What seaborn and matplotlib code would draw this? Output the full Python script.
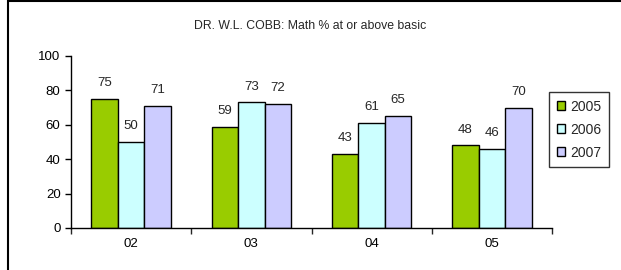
import matplotlib
matplotlib.use("Agg")
import matplotlib.pyplot as plt
import seaborn as sns
import pandas as pd
from matplotlib.patches import Rectangle

# data
grades = ["02", "03", "04", "05"]
years = ["2005", "2006", "2007"]
pct_2005 = [75, 59, 43, 48]
pct_2006 = [50, 73, 61, 46]
pct_2007 = [71, 72, 65, 70]
colors = ["#99CC00", "#CCFFFF", "#CCCCFF"]

df = pd.DataFrame({
    "grade": grades * 3,
    "year": [years[0]] * 4 + [years[1]] * 4 + [years[2]] * 4,
    "pct": pct_2005 + pct_2006 + pct_2007,
})

sns.set_style("white")
plt.rcParams["font.family"] = ["Liberation Sans", "DejaVu Sans"]

fig = plt.figure(figsize=(6.21, 2.7), dpi=100)
ax = fig.add_axes([71 / 621, 1 - 228 / 270, (552 - 71) / 621, (228 - 56) / 270])

sns.barplot(data=df, x="grade", y="pct", hue="year", palette=colors,
            edgecolor="black", linewidth=1, width=0.66, saturation=1,
            ax=ax, legend=True)

for c in ax.containers:
    ax.bar_label(c, padding=7, fontsize=9.5)

ax.set_ylim(0, 100)
ax.set_xlim(-0.5, 3.5)
ax.set_yticks([0, 20, 40, 60, 80, 100])
ax.set_xlabel("")
ax.set_ylabel("")
ax.tick_params(axis="both", labelsize=9.5, colors="black")
ax.tick_params(axis="y", direction="out", length=4, width=1, left=True)
ax.tick_params(axis="x", which="major", length=0, pad=7)
ax.set_xticks([-0.5, 0.5, 1.5, 2.5, 3.5], minor=True)
ax.tick_params(axis="x", which="minor", direction="out", length=4, width=1, bottom=True)
for s in ["top", "right"]:
    ax.spines[s].set_visible(False)
for s in ["left", "bottom"]:
    ax.spines[s].set_color("black")
    ax.spines[s].set_linewidth(1)

handles, labels = ax.get_legend_handles_labels()
ax.get_legend().remove()
leg = fig.legend(handles, labels, loc="upper left",
                 bbox_to_anchor=(549 / 621, 1 - 92 / 270), borderaxespad=0,
                 fontsize=10, frameon=True, fancybox=False,
                 edgecolor="black", handlelength=0.6, handleheight=0.6,
                 handletextpad=0.4, borderpad=0.55, labelspacing=0.65)
leg.get_frame().set_linewidth(1)

fig.suptitle("DR. W.L. COBB: Math % at or above basic", x=0.5, y=1 - 20 / 270,
             fontsize=8.8)

# outer chart border
fig.patches.append(Rectangle((8 / 621, -0.1), 1.2, 1.1 - 1.5 / 270,
                             transform=fig.transFigure, fill=False,
                             edgecolor="black", linewidth=1.5))

fig.savefig("out.png", dpi=100)
